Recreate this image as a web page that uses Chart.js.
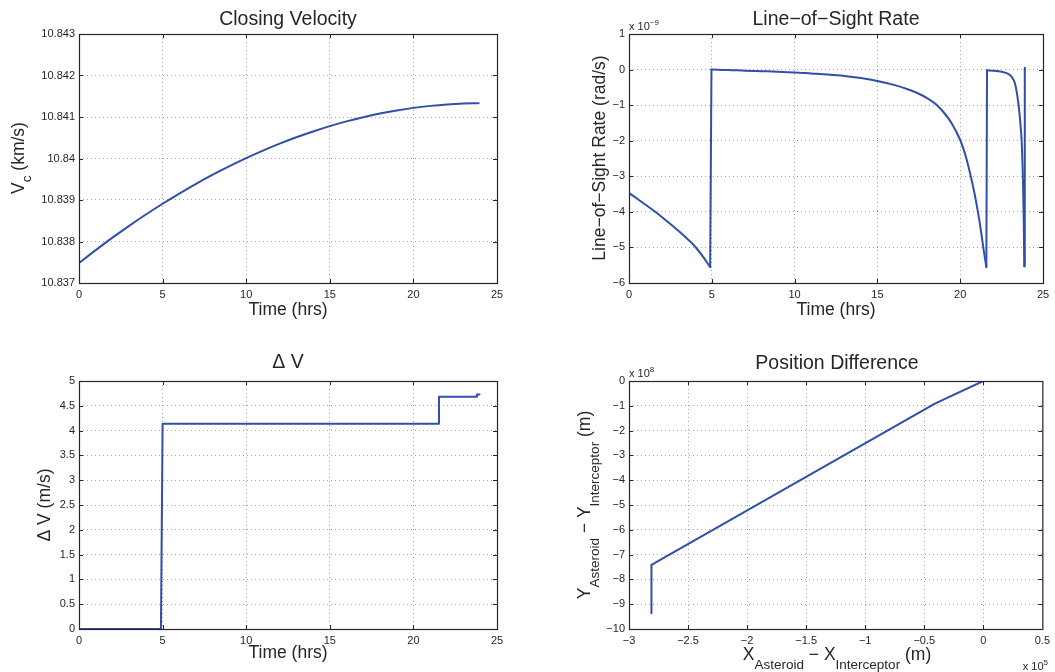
<!DOCTYPE html>
<html>
<head>
<meta charset="utf-8">
<script src="https://cdn.jsdelivr.net/npm/chart.js@4/dist/chart.umd.min.js"></script>
<style>
html,body{margin:0;padding:0;background:#fff;}
#page{position:relative;width:1055px;height:672px;overflow:hidden;background:#fff;}
.cell{position:absolute;}
.cell canvas{display:block;}
</style>
</head>
<body>
<div id="page">
  <div class="cell" style="left:0;top:0;width:527px;height:336px"><canvas id="c1" width="527" height="336"></canvas></div>
  <div class="cell" style="left:527px;top:0;width:528px;height:336px"><canvas id="c2" width="528" height="336"></canvas></div>
  <div class="cell" style="left:0;top:336px;width:527px;height:336px"><canvas id="c3" width="527" height="336"></canvas></div>
  <div class="cell" style="left:527px;top:336px;width:528px;height:336px"><canvas id="c4" width="528" height="336"></canvas></div>
</div>
<script>
// ---------------- DATA ----------------
// Closing velocity (km/s) vs time (hrs)
const timeVc = [0,1,2,3,4,5,6,7,8,9,10,11,12,13,14,15,16,17,18,19,20,21,22,23,23.9];
const closingVelocity = [10.837480,10.837792,10.838092,10.838378,10.838650,10.838910,10.839156,10.839390,10.839610,10.839816,
  10.840010,10.840190,10.840358,10.840512,10.840652,10.840780,10.840894,10.840996,10.841084,10.841158,
  10.841220,10.841268,10.841304,10.841326,10.841334];

// Line-of-sight rate (x 1e-9 rad/s) vs time (hrs)
const timeLos = [0,0.5,1,1.5,2,2.5,3,3.5,4,4.5,4.9,
  4.98,6,7,8,9,10,11,12,13,14,15,16,17,17.5,18,18.5,19,19.5,20,20.3,20.6,20.85,21.07,21.25,21.4,21.5,21.58,
  21.62,22,22.5,22.9,23.1,23.3,23.42,23.55,23.65,23.72,23.8,23.84,23.87,
  23.9];
const losRate = [-3.47,-3.63,-3.80,-3.97,-4.15,-4.34,-4.54,-4.75,-4.98,-5.28,-5.55,
  0.0,-0.01,-0.03,-0.045,-0.06,-0.08,-0.11,-0.14,-0.18,-0.24,-0.32,-0.43,-0.58,-0.68,-0.80,-0.96,-1.20,-1.52,-1.98,-2.38,-2.92,-3.45,-4.0,-4.52,-5.02,-5.32,-5.55,
  -0.02,-0.03,-0.06,-0.12,-0.2,-0.38,-0.65,-1.1,-1.6,-2.1,-3.3,-4.3,-5.53,
  0.05];
// indices where the rate jumps back up (end of each smooth branch)
const losJumps = [10, 37, 50];

// Delta V (m/s) vs time (hrs)
const timeDv = [0,4.9,5.0,21.5,21.53,23.75,23.8,23.95];
const deltaV = [0,0,4.14,4.14,4.68,4.68,4.73,4.73];

// Position difference: X (x 1e5 m), Y (x 1e8 m)
const posDiffX = [-2.81,-2.81,-0.41,0];
const posDiffY = [-9.36,-7.41,-0.91,0];

// Tick values
const timeTicks = [0,5,10,15,20,25];
const vcTicks = [10.837,10.838,10.839,10.84,10.841,10.842,10.843];
const losTicks = [-6,-5,-4,-3,-2,-1,0,1];
const dvTicks = [0,0.5,1,1.5,2,2.5,3,3.5,4,4.5,5];
const posXTicks = [-3,-2.5,-2,-1.5,-1,-0.5,0,0.5];
const posYTicks = [-10,-9,-8,-7,-6,-5,-4,-3,-2,-1,0];

// ---------------- STYLE ----------------
const FONT = "'Liberation Sans', Arial, Helvetica, sans-serif";
const LINE = '#3050a8';
const FRAME = '#262626';
const TXT = '#262626';
const GRID = 'rgba(0,0,0,0.36)';
Chart.defaults.font.family = FONT;

function fmt(v) {
  const s = String(parseFloat(Number(v).toFixed(4)));
  return s.replace('-', '\u2212');
}

function drawRuns(ctx, runs, x, y, rot, align) {
  ctx.save();
  ctx.translate(x, y);
  if (rot) ctx.rotate(rot);
  ctx.textBaseline = 'alphabetic';
  ctx.textAlign = 'left';
  ctx.fillStyle = TXT;
  let total = 0;
  runs.forEach(r => { ctx.font = r.s + 'px ' + FONT; r.w = ctx.measureText(r.t).width; total += r.w; });
  let u = align === 'left' ? 0 : (align === 'right' ? -total : -total / 2);
  runs.forEach(r => { ctx.font = r.s + 'px ' + FONT; ctx.fillText(r.t, u, r.dy || 0); u += r.w; });
  ctx.restore();
}

const decorPlugin = {
  id: 'decor',
  afterDraw(chart, args, o) {
    const ctx = chart.ctx, a = chart.chartArea;
    const xs = chart.scales.x, ys = chart.scales.y;
    ctx.save();
    ctx.strokeStyle = FRAME;
    ctx.lineWidth = 1;
    const TL = 4;
    ctx.beginPath();
    xs.ticks.forEach(t => {
      const p = Math.round(xs.getPixelForValue(t.value)) + 0.5;
      if (p < a.left + 2 || p > a.right - 2) return;
      ctx.moveTo(p, a.bottom); ctx.lineTo(p, a.bottom - TL);
      ctx.moveTo(p, a.top); ctx.lineTo(p, a.top + TL);
    });
    ys.ticks.forEach(t => {
      const p = Math.round(ys.getPixelForValue(t.value)) + 0.5;
      if (p < a.top + 2 || p > a.bottom - 2) return;
      ctx.moveTo(a.left, p); ctx.lineTo(a.left + TL, p);
      ctx.moveTo(a.right, p); ctx.lineTo(a.right - TL, p);
    });
    ctx.stroke();
    ctx.lineWidth = 1.2;
    ctx.strokeRect(a.left + 0.5, a.top + 0.5, a.right - a.left, a.bottom - a.top);
    ctx.restore();
    (o.texts || []).forEach(t => drawRuns(ctx, t.runs, t.x, t.y, t.rot || 0, t.align));
  }
};

// one drawn piece of a series, taken from index i0 to i1 of the arrays
function piece(xsArr, ysArr, i0, i1, smooth) {
  const pts = [];
  for (let i = i0; i <= i1; i++) pts.push({ x: xsArr[i], y: ysArr[i] });
  return {
    data: pts, showLine: true, borderColor: LINE, backgroundColor: LINE,
    borderWidth: 2, pointRadius: 0, pointHoverRadius: 0,
    tension: smooth ? 0.4 : 0, cubicInterpolationMode: smooth ? 'monotone' : 'default',
    fill: false, borderCapStyle: 'round', borderJoinStyle: 'round'
  };
}

function makeChart(id, datasets, xr, yr, xt, yt, area, size, texts) {
  return new Chart(document.getElementById(id), {
    type: 'scatter',
    data: { datasets: datasets },
    options: {
      responsive: false, animation: false, events: [],
      layout: { padding: { left: 0, top: area.T, right: size.W - area.R, bottom: 0 } },
      plugins: { legend: { display: false }, tooltip: { enabled: false }, decor: { texts: texts } },
      scales: {
        x: {
          type: 'linear', min: xr[0], max: xr[1],
          afterBuildTicks: s => { s.ticks = xt.map(v => ({ value: v })); },
          afterFit: s => { s.height = size.H - area.B; },
          grid: { color: GRID, lineWidth: 1, drawTicks: false },
          border: { display: false, dash: [1, 3] },
          ticks: { padding: 5, color: TXT, font: { size: 11, family: FONT }, callback: v => fmt(v), maxRotation: 0, autoSkip: false }
        },
        y: {
          type: 'linear', min: yr[0], max: yr[1],
          afterBuildTicks: s => { s.ticks = yt.map(v => ({ value: v })); },
          afterFit: s => { s.width = area.L; },
          grid: { color: GRID, lineWidth: 1, drawTicks: false },
          border: { display: false, dash: [1, 3] },
          ticks: { padding: 4, color: TXT, font: { size: 11, family: FONT }, callback: v => fmt(v), autoSkip: false }
        }
      }
    },
    plugins: [decorPlugin]
  });
}

const RV = -Math.PI / 2;

// Chart 1: Closing Velocity
makeChart('c1', [piece(timeVc, closingVelocity, 0, timeVc.length - 1, true)],
  [0, 25], [10.837, 10.843], timeTicks, vcTicks,
  { L: 79, R: 497, T: 34, B: 283 }, { W: 527, H: 336 }, [
    { runs: [{ t: 'Closing Velocity', s: 19.5 }], x: 288, y: 25 },
    { runs: [{ t: 'Time (hrs)', s: 17.5 }], x: 288, y: 315 },
    { runs: [{ t: 'V', s: 17.5 }, { t: 'c', s: 13.5, dy: 7 }, { t: ' (km/s)', s: 17.5 }], x: 24, y: 158, rot: RV }
  ]);

// Chart 2: Line-of-Sight Rate (smooth branches joined by straight jumps)
const losSets = [];
let start = 0;
losJumps.forEach(j => {
  losSets.push(piece(timeLos, losRate, start, j, true));
  losSets.push(piece(timeLos, losRate, j, j + 1, false));
  start = j + 1;
});
if (start < timeLos.length - 1) losSets.push(piece(timeLos, losRate, start, timeLos.length - 1, true));
makeChart('c2', losSets, [0, 25], [-6, 1], timeTicks, losTicks,
  { L: 102, R: 516, T: 34, B: 283 }, { W: 528, H: 336 }, [
    { runs: [{ t: 'Line\u2212of\u2212Sight Rate', s: 19.5 }], x: 309, y: 25 },
    { runs: [{ t: 'Time (hrs)', s: 17.5 }], x: 309, y: 315 },
    { runs: [{ t: 'Line\u2212of\u2212Sight Rate (rad/s)', s: 17.5 }], x: 78, y: 158, rot: RV },
    { runs: [{ t: 'x 10', s: 11 }, { t: '\u22129', s: 8, dy: -5 }], x: 102, y: 30, align: 'left' }
  ]);

// Chart 3: Delta V
makeChart('c3', [piece(timeDv, deltaV, 0, timeDv.length - 1, false)],
  [0, 25], [0, 5], timeTicks, dvTicks,
  { L: 79, R: 497, T: 45, B: 293 }, { W: 527, H: 336 }, [
    { runs: [{ t: '\u0394 V', s: 19.5 }], x: 288, y: 32 },
    { runs: [{ t: 'Time (hrs)', s: 17.5 }], x: 288, y: 322 },
    { runs: [{ t: '\u0394 V (m/s)', s: 17.5 }], x: 50, y: 169, rot: RV }
  ]);

// Chart 4: Position Difference
makeChart('c4', [piece(posDiffX, posDiffY, 0, posDiffX.length - 1, false)],
  [-3, 0.5], [-10, 0], posXTicks, posYTicks,
  { L: 102, R: 518, T: 45, B: 293 }, { W: 528, H: 336 }, [
    { runs: [{ t: 'Position Difference', s: 19.5 }], x: 310, y: 33 },
    { runs: [{ t: 'X', s: 17.5 }, { t: 'Asteroid', s: 13.5, dy: 9 }, { t: ' \u2212 X', s: 17.5 }, { t: 'Interceptor', s: 13.5, dy: 9 }, { t: ' (m)', s: 17.5 }], x: 310, y: 324 },
    { runs: [{ t: 'Y', s: 17.5 }, { t: 'Asteroid', s: 13.5, dy: 9 }, { t: ' \u2212 Y', s: 17.5 }, { t: 'Interceptor', s: 13.5, dy: 9 }, { t: ' (m)', s: 17.5 }], x: 63, y: 169, rot: RV },
    { runs: [{ t: 'x 10', s: 11 }, { t: '8', s: 8, dy: -5 }], x: 102, y: 41, align: 'left' },
    { runs: [{ t: 'x 10', s: 11 }, { t: '5', s: 8, dy: -5 }], x: 521, y: 334, align: 'right' }
  ]);
</script>
</body>
</html>
